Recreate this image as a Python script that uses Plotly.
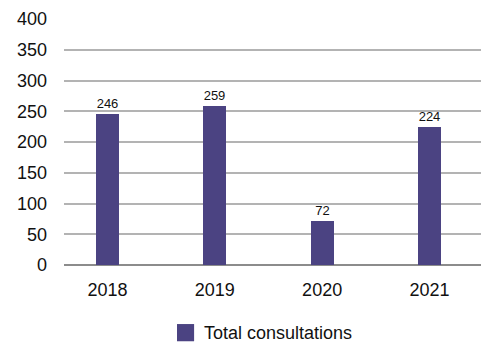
import plotly.graph_objects as go

years = ["2018", "2019", "2020", "2021"]
consultations = [246, 259, 72, 224]
y_ticks = [0, 50, 100, 150, 200, 250, 300, 350, 400]
series_name = "Total consultations"

bar_color = "#4b4382"
font_family = "Liberation Sans, Arial, Helvetica, sans-serif"

fig = go.Figure()
fig.add_trace(go.Bar(
    x=years,
    y=consultations,
    name=series_name,
    marker=dict(color=bar_color, line=dict(width=0)),
    width=0.214,
    text=[str(v) for v in consultations],
    textposition="outside",
    textfont=dict(size=13, color="#111111", family=font_family),
    cliponaxis=False,
    showlegend=False,
))

# Legend key drawn below the plot: a square swatch plus the series name
fig.add_shape(
    type="rect", xref="paper", yref="paper",
    x0=0.271, x1=0.312, y0=-0.31, y1=-0.24,
    fillcolor=bar_color, line=dict(width=0),
)
fig.add_annotation(
    xref="paper", yref="paper",
    x=0.331, y=-0.277, xanchor="left", yanchor="middle",
    text=series_name, showarrow=False,
    font=dict(size=18, color="#111111", family=font_family),
)

fig.update_layout(
    width=481,
    height=345,
    margin=dict(l=64, r=0, t=19, b=80, autoexpand=False),
    paper_bgcolor="white",
    plot_bgcolor="white",
    font=dict(family=font_family, color="#111111"),
    showlegend=False,
    bargap=0,
)

fig.update_xaxes(
    type="category",
    range=[-0.405, 3.48],
    showgrid=False,
    showline=False,
    ticks="",
    tickfont=dict(size=18, color="#111111"),
    ticklabelstandoff=12,
)

fig.update_yaxes(
    range=[0, 400],
    tickvals=y_ticks,
    showgrid=True,
    gridcolor="#b3b3b3",
    gridwidth=1.5,
    zeroline=True,
    zerolinecolor="#8c8c8c",
    zerolinewidth=1.5,
    showline=False,
    ticks="",
    tickfont=dict(size=18, color="#111111"),
    ticklabelstandoff=16,
)

fig.write_html("out.html")
